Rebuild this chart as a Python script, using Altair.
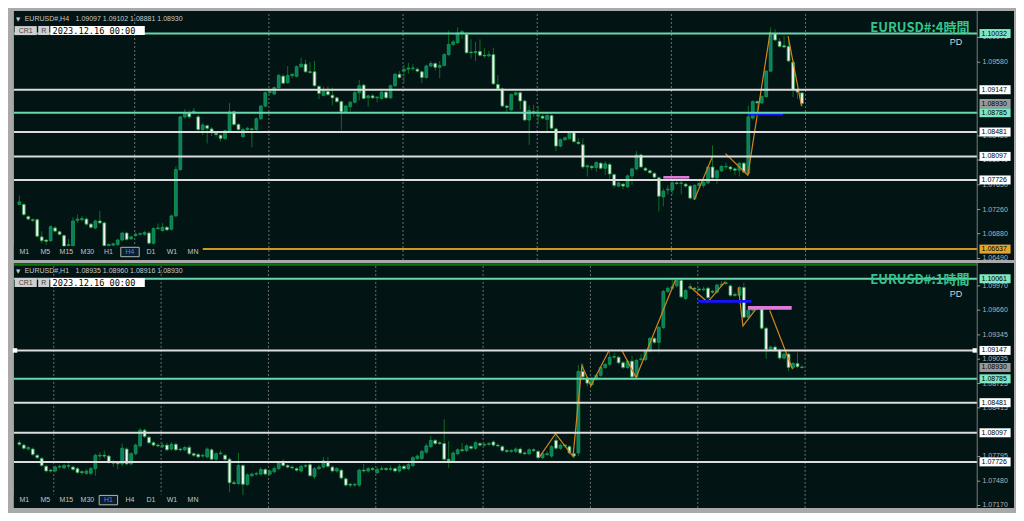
import altair as alt
import pandas as pd

# ---------------- data ----------------
# H4 panel candles (176)
top_open = [1.0734,1.0734,1.0715,1.0710,1.0710,1.0683,1.0678,1.0677,1.0697,1.0691,
1.0685,1.0669,1.0669,1.0709,1.0710,1.0711,1.0703,1.0697,1.0708,1.0705,
1.0669,1.0670,1.0671,1.0678,1.0689,1.0680,1.0685,1.0687,1.0687,1.0689,
1.0673,1.0696,1.0693,1.0698,1.0695,1.0716,1.0789,1.0872,1.0878,1.0879,
1.0872,1.0852,1.0858,1.0853,1.0846,1.0843,1.0838,1.0850,1.0880,1.0860,
1.0841,1.0852,1.0853,1.0852,1.0869,1.0889,1.0910,1.0908,1.0918,1.0936,
1.0926,1.0937,1.0936,1.0951,1.0955,1.0943,1.0943,1.0920,1.0906,1.0912,
1.0906,1.0902,1.0896,1.0880,1.0888,1.0895,1.0910,1.0922,1.0902,1.0905,
1.0902,1.0901,1.0911,1.0902,1.0921,1.0939,1.0944,1.0947,1.0948,1.0947,
1.0943,1.0934,1.0952,1.0956,1.0950,1.0953,1.0970,1.0986,1.0989,1.1004,
1.1002,1.0974,1.0973,1.0975,1.0969,1.0968,1.0970,1.0923,1.0916,1.0889,
1.0883,1.0907,1.0910,1.0897,1.0867,1.0880,1.0873,1.0873,1.0868,1.0874,
1.0853,1.0826,1.0836,1.0838,1.0847,1.0832,1.0828,1.0793,1.0794,1.0792,
1.0799,1.0791,1.0797,1.0781,1.0763,1.0766,1.0762,1.0779,1.0790,1.0812,
1.0791,1.0787,1.0783,1.0776,1.0746,1.0757,1.0757,1.0768,1.0767,1.0766,
1.0763,1.0743,1.0764,1.0764,1.0768,1.0793,1.0776,1.0787,1.0793,1.0793,
1.0790,1.0788,1.0799,1.0783,1.0870,1.0896,1.0894,1.0904,1.0944,1.1003,
1.0991,1.0984,1.0983,1.0958,1.0915,1.09097]
top_high = [1.0748,1.0736,1.0717,1.0712,1.0712,1.0692,1.0680,1.0701,1.0700,1.0693,
1.0687,1.0680,1.0714,1.0718,1.0716,1.0714,1.0705,1.0710,1.0724,1.0707,
1.0673,1.0674,1.0680,1.0691,1.0691,1.0685,1.0690,1.0690,1.0692,1.0692,
1.0698,1.0704,1.0705,1.0700,1.0718,1.0794,1.0874,1.0884,1.0882,1.0886,
1.0875,1.0862,1.0860,1.0856,1.0848,1.0845,1.0852,1.0894,1.0882,1.0862,
1.0855,1.0856,1.0855,1.0871,1.0891,1.0912,1.0916,1.0920,1.0940,1.0939,
1.0952,1.0941,1.0953,1.0965,1.0962,1.0958,1.0960,1.0922,1.0920,1.0920,
1.0918,1.0904,1.0898,1.0891,1.0897,1.0913,1.0930,1.0924,1.0907,1.0908,
1.0905,1.0913,1.0913,1.0923,1.0941,1.0944,1.0954,1.0957,1.0955,1.0950,
1.0945,1.0954,1.0960,1.0958,1.0960,1.0972,1.1008,1.0993,1.1013,1.1009,
1.1005,1.0994,1.0990,1.0994,1.0980,1.0976,1.0981,1.0938,1.0918,1.0891,
1.0909,1.0912,1.0912,1.0899,1.0890,1.0891,1.0889,1.0876,1.0878,1.0876,
1.0855,1.0838,1.0841,1.0849,1.0849,1.0838,1.0838,1.0797,1.0796,1.0802,
1.0801,1.0802,1.0800,1.0783,1.0770,1.0768,1.0781,1.0792,1.0818,1.0814,
1.0793,1.0789,1.0785,1.0778,1.0759,1.0764,1.0772,1.0770,1.0773,1.0768,
1.0765,1.0766,1.0772,1.0771,1.0795,1.0827,1.0789,1.0796,1.0800,1.0795,
1.0792,1.0801,1.0801,1.0890,1.0898,1.0898,1.0906,1.0946,1.1013,1.1010,
1.0996,1.1000,1.0998,1.0960,1.0917,1.09102]
top_low = [1.0733,1.0716,1.0709,1.0706,1.0682,1.0673,1.0670,1.0675,1.0690,1.0685,
1.0665,1.0665,1.0667,1.0705,1.0707,1.0701,1.0696,1.0695,1.0703,1.0667,
1.0667,1.0668,1.0669,1.0676,1.0677,1.0678,1.0683,1.0685,1.0685,1.0671,
1.0671,1.0694,1.0691,1.0692,1.0693,1.0714,1.0787,1.0869,1.0869,1.0876,
1.0850,1.0843,1.0830,1.0842,1.0840,1.0833,1.0836,1.0848,1.0858,1.0850,
1.0839,1.0850,1.0824,1.0850,1.0867,1.0887,1.0907,1.0906,1.0916,1.0923,
1.0924,1.0933,1.0934,1.0949,1.0941,1.0940,1.0919,1.0900,1.0904,1.0905,
1.0890,1.0894,1.0851,1.0878,1.0880,1.0893,1.0898,1.0899,1.0888,1.0900,
1.0895,1.0899,1.0900,1.0900,1.0919,1.0932,1.0925,1.0940,1.0944,1.0942,
1.0925,1.0932,1.0950,1.0945,1.0933,1.0951,1.0968,1.0984,1.0987,1.0995,
1.0971,1.0964,1.0960,1.0967,1.0965,1.0966,1.0922,1.0914,1.0887,1.0880,
1.0881,1.0905,1.0883,1.0865,1.0828,1.0872,1.0860,1.0868,1.0849,1.0852,
1.0818,1.0824,1.0834,1.0836,1.0831,1.0828,1.0790,1.0778,1.0788,1.0785,
1.0789,1.0780,1.0775,1.0760,1.0761,1.0758,1.0760,1.0765,1.0788,1.0791,
1.0786,1.0782,1.0775,1.0723,1.0731,1.0750,1.0750,1.0765,1.0750,1.0760,
1.0742,1.0741,1.0760,1.0760,1.0766,1.0774,1.0766,1.0785,1.0788,1.0786,
1.0780,1.0778,1.0783,1.0781,1.0868,1.0880,1.0892,1.0902,1.0942,1.0991,
1.0981,1.0980,1.0958,1.0903,1.0900,1.08881]
top_close = [1.0738,1.0718,1.0711,1.0709,1.0684,1.0677,1.0676,1.0699,1.0692,1.0687,
1.0668,1.0671,1.0708,1.0711,1.0712,1.0703,1.0698,1.0708,1.0705,1.0669,
1.0671,1.0672,1.0678,1.0689,1.0679,1.0683,1.0687,1.0688,1.0690,1.0673,
1.0696,1.0697,1.0698,1.0694,1.0716,1.0789,1.0872,1.0879,1.0872,1.0881,
1.0852,1.0859,1.0854,1.0847,1.0844,1.0838,1.0850,1.0880,1.0860,1.0852,
1.0852,1.0854,1.0852,1.0869,1.0889,1.0910,1.0913,1.0918,1.0937,1.0925,
1.0937,1.0939,1.0951,1.0955,1.0943,1.0942,1.0921,1.0909,1.0913,1.0907,
1.0902,1.0896,1.0880,1.0889,1.0895,1.0910,1.0921,1.0901,1.0905,1.0902,
1.0903,1.0911,1.0902,1.0921,1.0939,1.0934,1.0947,1.0949,1.0949,1.0944,
1.0934,1.0952,1.0956,1.0950,1.0953,1.0970,1.0986,1.0990,1.1004,1.1006,
1.0973,1.0973,1.0975,1.0969,1.0968,1.0970,1.0924,1.0916,1.0889,1.0887,
1.0907,1.0910,1.0897,1.0867,1.0882,1.0878,1.0875,1.0870,1.0874,1.0854,
1.0826,1.0836,1.0839,1.0847,1.0833,1.0830,1.0793,1.0795,1.0792,1.0800,
1.0791,1.0798,1.0782,1.0764,1.0768,1.0763,1.0779,1.0790,1.0812,1.0793,
1.0788,1.0784,1.0777,1.0747,1.0755,1.0758,1.0768,1.0767,1.0768,1.0763,
1.0744,1.0764,1.0767,1.0769,1.0793,1.0776,1.0787,1.0794,1.0794,1.0790,
1.0788,1.0799,1.0785,1.0872,1.0896,1.0894,1.0904,1.0944,1.1003,1.0993,
1.0983,1.0982,1.0960,1.0915,1.0911,1.08930]

# H1 panel candles (176)
bot_open = [1.0797,1.0794,1.0789,1.0789,1.0781,1.0777,1.0767,1.0762,1.0761,1.0766,
1.0765,1.0767,1.0766,1.0764,1.0760,1.0758,1.0758,1.0764,1.0780,1.0781,
1.0780,1.0772,1.0771,1.0770,1.0789,1.0770,1.0783,1.0793,1.0813,1.0804,
1.0797,1.0794,1.0792,1.0794,1.0789,1.0795,1.0789,1.0788,1.0791,1.0783,
1.0782,1.0780,1.0779,1.0788,1.0776,1.0783,1.0781,1.0776,1.0746,1.0745,
1.0768,1.0744,1.0755,1.0757,1.0757,1.0763,1.0757,1.0760,1.0764,1.0772,
1.0768,1.0766,1.0764,1.0761,1.0767,1.0769,1.0754,1.0764,1.0766,1.0773,
1.0766,1.0761,1.0762,1.0751,1.0744,1.0743,1.0743,1.0762,1.0761,1.0764,
1.0759,1.0763,1.0764,1.0763,1.0764,1.0761,1.0767,1.0764,1.0768,1.0777,
1.0777,1.0785,1.0792,1.0800,1.0797,1.0796,1.0776,1.0774,1.0783,1.0788,
1.0787,1.0792,1.0790,1.0796,1.0794,1.0795,1.0798,1.0794,1.0792,1.0787,
1.0786,1.0786,1.0789,1.0784,1.0783,1.0788,1.0786,1.0778,1.0782,1.0780,
1.0800,1.0790,1.0794,1.0792,1.0783,1.0784,1.0888,1.0879,1.0871,1.0879,
1.0883,1.0893,1.0897,1.0906,1.0906,1.0899,1.0893,1.0901,1.0881,1.0903,
1.0903,1.0914,1.0930,1.0925,1.0944,1.0990,1.0994,1.0997,1.1004,1.0981,
1.0994,1.0994,1.0993,1.0992,1.0994,1.0990,1.0989,1.0998,1.1000,1.0997,
1.0986,1.0985,1.0995,1.0957,1.0966,1.0968,1.0969,1.0943,1.0916,1.0919,
1.0915,1.0905,1.0910,1.0893,1.0898,1.08935]
bot_high = [1.0800,1.0796,1.0793,1.0791,1.0783,1.0779,1.0769,1.0764,1.0768,1.0769,
1.0770,1.0772,1.0768,1.0766,1.0762,1.0763,1.0766,1.0783,1.0785,1.0787,
1.0782,1.0775,1.0773,1.0796,1.0791,1.0785,1.0796,1.0816,1.0815,1.0806,
1.0799,1.0796,1.0797,1.0797,1.0798,1.0797,1.0791,1.0793,1.0794,1.0785,
1.0784,1.0783,1.0791,1.0790,1.0785,1.0787,1.0783,1.0778,1.0749,1.0784,
1.0770,1.0758,1.0759,1.0760,1.0766,1.0765,1.0763,1.0767,1.0773,1.0776,
1.0770,1.0768,1.0766,1.0769,1.0770,1.0771,1.0766,1.0769,1.0779,1.0779,
1.0768,1.0766,1.0764,1.0753,1.0746,1.0746,1.0764,1.0770,1.0766,1.0766,
1.0766,1.0767,1.0766,1.0768,1.0766,1.0770,1.0769,1.0771,1.0780,1.0782,
1.0788,1.0796,1.0806,1.0802,1.0799,1.0827,1.0799,1.0786,1.0790,1.0797,
1.0795,1.0794,1.0799,1.0798,1.0797,1.0798,1.0800,1.0796,1.0794,1.0789,
1.0789,1.0791,1.0791,1.0786,1.0790,1.0790,1.0788,1.0785,1.0786,1.0794,
1.0806,1.0796,1.0795,1.0794,1.0785,1.0896,1.0898,1.0881,1.0881,1.0885,
1.0895,1.0899,1.0913,1.0912,1.0908,1.0901,1.0903,1.0908,1.0904,1.0910,
1.0916,1.0932,1.0932,1.0946,1.0992,1.0996,1.1005,1.1006,1.1006,1.0993,
1.1000,1.0996,1.0995,1.0996,1.0996,1.0992,1.1000,1.1003,1.1004,1.0999,
1.0989,1.0997,1.1001,1.0968,1.0970,1.0971,1.0971,1.0945,1.0921,1.0921,
1.0917,1.0912,1.0912,1.0900,1.0912,1.08960]
bot_low = [1.0793,1.0788,1.0787,1.0780,1.0776,1.0766,1.0759,1.0759,1.0759,1.0764,
1.0763,1.0764,1.0761,1.0757,1.0756,1.0756,1.0756,1.0755,1.0775,1.0777,
1.0770,1.0766,1.0763,1.0767,1.0768,1.0768,1.0781,1.0791,1.0803,1.0795,
1.0792,1.0791,1.0790,1.0786,1.0787,1.0786,1.0786,1.0786,1.0781,1.0779,
1.0777,1.0778,1.0777,1.0774,1.0774,1.0781,1.0774,1.0734,1.0743,1.0743,
1.0730,1.0742,1.0753,1.0755,1.0755,1.0755,1.0755,1.0758,1.0762,1.0766,
1.0764,1.0763,1.0760,1.0759,1.0765,1.0753,1.0751,1.0762,1.0764,1.0765,
1.0759,1.0759,1.0750,1.0741,1.0740,1.0741,1.0741,1.0759,1.0759,1.0761,
1.0757,1.0762,1.0761,1.0761,1.0759,1.0759,1.0762,1.0762,1.0766,1.0775,
1.0775,1.0783,1.0790,1.0794,1.0794,1.0774,1.0765,1.0772,1.0781,1.0785,
1.0785,1.0788,1.0788,1.0792,1.0792,1.0793,1.0792,1.0791,1.0785,1.0784,
1.0784,1.0784,1.0782,1.0781,1.0781,1.0785,1.0776,1.0776,1.0780,1.0778,
1.0788,1.0788,1.0791,1.0782,1.0777,1.0780,1.0879,1.0869,1.0869,1.0876,
1.0881,1.0891,1.0895,1.0903,1.0897,1.0891,1.0891,1.0879,1.0879,1.0901,
1.0901,1.0912,1.0923,1.0912,1.0942,1.0988,1.0992,1.0995,1.0981,1.0979,
1.0992,1.0991,1.0990,1.0990,1.0980,1.0987,1.0987,1.0996,1.0998,1.0983,
1.0983,1.0983,1.0955,1.0955,1.0964,1.0966,1.0941,1.0904,1.0914,1.0913,
1.0903,1.0903,1.0888,1.0891,1.0892,1.08916]
bot_close = [1.0795,1.0790,1.0791,1.0782,1.0778,1.0768,1.0761,1.0761,1.0766,1.0767,
1.0768,1.0768,1.0763,1.0759,1.0759,1.0761,1.0764,1.0781,1.0781,1.0780,
1.0772,1.0771,1.0770,1.0790,1.0770,1.0783,1.0794,1.0813,1.0805,1.0797,
1.0794,1.0793,1.0794,1.0788,1.0795,1.0788,1.0788,1.0791,1.0783,1.0781,
1.0779,1.0781,1.0789,1.0776,1.0783,1.0784,1.0776,1.0746,1.0745,1.0768,
1.0744,1.0756,1.0757,1.0758,1.0763,1.0757,1.0761,1.0764,1.0771,1.0768,
1.0766,1.0765,1.0762,1.0767,1.0768,1.0755,1.0764,1.0766,1.0774,1.0767,
1.0761,1.0764,1.0752,1.0743,1.0743,1.0744,1.0762,1.0761,1.0764,1.0763,
1.0763,1.0764,1.0763,1.0764,1.0761,1.0767,1.0764,1.0769,1.0778,1.0780,
1.0786,1.0793,1.0800,1.0796,1.0796,1.0776,1.0774,1.0784,1.0788,1.0787,
1.0793,1.0790,1.0797,1.0794,1.0795,1.0796,1.0794,1.0793,1.0787,1.0786,
1.0787,1.0789,1.0784,1.0783,1.0788,1.0787,1.0778,1.0783,1.0783,1.0792,
1.0790,1.0794,1.0793,1.0784,1.0780,1.0888,1.0881,1.0873,1.0879,1.0883,
1.0893,1.0897,1.0906,1.0907,1.0899,1.0893,1.0901,1.0881,1.0902,1.0904,
1.0914,1.0930,1.0925,1.0944,1.0990,1.0994,1.0996,1.1004,1.0983,1.0991,
1.0996,1.0993,1.0992,1.0993,1.0982,1.0989,1.0998,1.0999,1.1001,1.0985,
1.0985,1.0995,1.0957,1.0966,1.0968,1.0969,1.0943,1.0916,1.0919,1.0915,
1.0905,1.0910,1.0893,1.0898,1.0894,1.08930]

# horizontal levels
top_levels = [1.10032, 1.09147, 1.08785, 1.08481, 1.08097, 1.07726]
top_kinds = ["teal", "white", "teal", "white", "white", "white"]
top_gold = [1.06637]
bot_levels = [1.10061, 1.09147, 1.08785, 1.08481, 1.08097, 1.07726]
bot_kinds = ["teal", "white", "teal", "white", "white", "white"]
last_price = [1.08930]

# right-axis tick labels that remain visible around the level boxes
top_ticks = [1.09970, 1.09580, 1.08420, 1.08040, 1.07650, 1.07260, 1.06880, 1.06490]
bot_ticks = [1.09970, 1.09660, 1.09345, 1.09035, 1.08725, 1.08415, 1.07795, 1.07480, 1.07170]

# vertical grid (bar index)
top_grid = [25.8, 55.8, 85.8, 115.8, 145.8, 175.8]
bot_grid = [7.7, 31.7, 55.7, 79.7, 103.7, 127.7, 151.7, 175.7]

# zigzag segments: (segment, bar index, price)
top_zz_seg = [0, 0, 1, 1, 1, 2, 2]
top_zz_x = [150.9, 154.9, 157.9, 162.9, 167.9, 171.9, 174.9]
top_zz_p = [1.0741, 1.0808, 1.0814, 1.0780, 1.1006, 1.0999, 1.0889]
bot_zz_seg = [0, 0, 0, 0, 0, 0, 1, 1, 1, 2, 2, 2, 3, 3, 3, 4, 4]
bot_zz_x = [116.2, 119.9, 123.8, 125.8, 127.8, 131.8, 134.8, 137.9, 146.7,
            149.9, 153.9, 157.8, 160.8, 161.8, 164.7, 167.8, 172.9]
bot_zz_p = [1.0778, 1.08085, 1.07797, 1.08958, 1.08694, 1.09139, 1.09139, 1.08801, 1.10044,
            1.09962, 1.09764, 1.10020, 1.09946, 1.09460, 1.09674, 1.09657, 1.08908]

# zone rectangles (pink) and blue line: [x0, x1, p0, p1]
top_pink = [144.0, 149.8, 1.07747, 1.07788]
bot_pink = [162.9, 172.7, 1.09666, 1.09715]
top_blue = [163.0, 170.8, 1.08760]
bot_blue = [151.8, 163.7, 1.09773]

timeframes = ["M1", "M5", "M15", "M30", "H1", "H4", "D1", "W1", "MN"]

# ---------------- styling / layout ----------------
W, H = 1008, 505
X_DOMAIN = [-1.417, 221.74]
TOP_DOM, TOP_RNG = [1.06467, 1.10387], [251.9, 3.0]
BOT_DOM, BOT_RNG = [1.07138, 1.10263], [500.0, 254.9]
PX0, PX1 = 5.9, 969.2          # plot area x extent
AX1 = 1006.0                   # end of price-axis strip

FRAME = "#a9a9a9"
BG = "#031414"
TEAL = "#67d8ae"
WHITE = "#dcdcdc"
GOLD = "#cf971d"
WICK = "#0b6e25"
BULL_F, BULL_S = "#0a7c68", "#13a04e"
BEAR_F, BEAR_S = "#f4f4f4", "#2c9a4c"
ZZ = "#d4851e"
PINK = "#e07ad8"
BLUE = "#1414ff"
FONT = "Liberation Sans"

one = pd.DataFrame({"z": [0]})


def xq(f):
    return alt.X(f, type="quantitative",
                 scale=alt.Scale(domain=X_DOMAIN, nice=False, zero=False), axis=None)


def yq(f, dom, rng):
    return alt.Y(f, type="quantitative",
                 scale=alt.Scale(domain=dom, range=rng, nice=False, zero=False), axis=None)


def rect(x0, x1, y0, y1, fill, stroke=None, sw=0.0):
    kw = dict(fill=fill)
    if stroke:
        kw.update(stroke=stroke, strokeWidth=sw)
    return alt.Chart(one).mark_rect(**kw).encode(
        x=alt.value(x0), x2=alt.value(x1), y=alt.value(y0), y2=alt.value(y1))


def txt(s, x, y, size=7, color="#c8c8c8", align="left", font=FONT, weight="normal"):
    return alt.Chart(one).mark_text(
        text=s, align=align, baseline="middle", fontSize=size, color=color,
        font=font, fontWeight=weight).encode(x=alt.value(x), y=alt.value(y))


line_scale = alt.Scale(domain=["teal", "white", "gold"], range=[TEAL, WHITE, GOLD])
box_scale = alt.Scale(domain=["teal", "white", "gold", "cur"],
                      range=["#7fe6c0", "#ffffff", "#e3a52a", "#9a9a9a"])
tf_x = [16.4, 37.4, 58.4, 79.4, 100.4, 122.0, 143.0, 164.0, 185.0]


def panel(o, h, l, c, dom, rng, y0, y1, levels, kinds, gold, ticks, grid,
          zz_seg, zz_x, zz_p, pink, blue, hdr_name, hdr_vals, title, tf_sel,
          green_bar, square_marker):
    Y = lambda f: yq(f, dom, rng)
    df = pd.DataFrame({"i": list(range(len(o))), "o": o, "h": h, "l": l, "c": c})
    df["up"] = df["c"] >= df["o"]
    layers = []
    # background of plot and axis strip
    layers.append(rect(PX0, AX1, y0, y1, BG))
    if green_bar:
        layers.append(rect(PX0, PX1, y0 + 0.4, y0 + 2.9, "#0c7412"))
    # dotted vertical grid
    layers.append(alt.Chart(pd.DataFrame({"g": grid})).mark_rule(
        color="#6e6e6e", strokeDash=[2, 2], strokeWidth=1).encode(
        x=xq("g"), y=alt.value(y0 + 3), y2=alt.value(y1)))
    # candles
    layers.append(alt.Chart(df).mark_rule(color=WICK, strokeWidth=1).encode(
        x=xq("i"), y=Y("l"), y2="h"))
    layers.append(alt.Chart(df[df["up"]]).mark_bar(
        size=2.8, fill=BULL_F, stroke=BULL_S, strokeWidth=0.8).encode(
        x=xq("i"), y=Y("o"), y2="c"))
    layers.append(alt.Chart(df[~df["up"]]).mark_bar(
        size=2.8, fill=BEAR_F, stroke=BEAR_S, strokeWidth=0.8).encode(
        x=xq("i"), y=Y("o"), y2="c"))
    # zigzag
    zdf = pd.DataFrame({"seg": zz_seg, "x": zz_x, "p": zz_p})
    zdf["k"] = range(len(zdf))
    layers.append(alt.Chart(zdf).mark_line(color=ZZ, strokeWidth=1.2).encode(
        x=xq("x"), y=Y("p"), detail="seg:N", order="k:Q"))
    # zone / trend objects
    layers.append(alt.Chart(pd.DataFrame({"x0": [pink[0]], "x1": [pink[1]],
                                          "p0": [pink[2]], "p1": [pink[3]]}))
                  .mark_rect(color=PINK).encode(x=xq("x0"), x2="x1", y=Y("p0"), y2="p1"))
    layers.append(alt.Chart(pd.DataFrame({"x0": [blue[0]], "x1": [blue[1]], "p": [blue[2]]}))
                  .mark_rule(color=BLUE, strokeWidth=2.6).encode(x=xq("x0"), x2="x1", y=Y("p")))
    # horizontal levels
    ldf = pd.DataFrame({"p": levels, "kind": kinds})
    layers.append(alt.Chart(ldf).mark_rule(strokeWidth=2).encode(
        x=alt.value(PX0), x2=alt.value(PX1), y=Y("p"),
        color=alt.Color("kind:N", scale=line_scale, legend=None)))
    if gold:
        layers.append(alt.Chart(pd.DataFrame({"p": gold})).mark_rule(
            strokeWidth=2, color=GOLD).encode(x=alt.value(194.8), x2=alt.value(PX1), y=Y("p")))
    if square_marker is not None:
        sq = pd.DataFrame({"p": [square_marker]})
        for xv in (7.0, 966.8):
            layers.append(alt.Chart(sq).mark_square(size=20, color="#ffffff", opacity=1).encode(
                x=alt.value(xv), y=Y("p")))
    # header & buttons
    hy = y0 + 7.7
    by0, by1 = y0 + 15.1, y0 + 24.1
    layers.append(txt("\u25bc", 8.0, hy, size=5.5, color="#c8c8c8", font="DejaVu Sans"))
    layers.append(txt(hdr_name, 16.7, hy))
    layers.append(txt(hdr_vals, 67.6, hy))
    layers.append(rect(6.6, 28.8, by0, by1, "#cfcfcf"))
    layers.append(txt("CR1", 17.7, (by0 + by1) / 2, color="#444444", align="center"))
    layers.append(rect(30.2, 41.3, by0, by1, "#cfcfcf"))
    layers.append(txt("R", 35.7, (by0 + by1) / 2, color="#444444", align="center"))
    layers.append(rect(42.3, 136.8, by0, by1, "#ffffff"))
    layers.append(txt("2023.12.16 00:00", 44.6, (by0 + by1) / 2 + 0.3, size=8.6,
                      color="#000000", font="DejaVu Sans Mono"))
    # title + PD
    layers.append(txt(title, 961.4, y0 + 17.3, size=13, color="#34c48c", align="right",
                      font="Noto Sans CJK JP", weight="bold"))
    layers.append(txt("PD", 948.0, y0 + 30.6, size=9, color="#d6d6d6", align="center"))
    # timeframe bar
    ty = y1 - 8.0
    layers.append(rect(PX0, 194.0, y1 - 13.6, y1, BG))
    for name, xv in zip(timeframes, tf_x):
        if name == tf_sel:
            layers.append(rect(xv - 9.2, xv + 9.2, ty - 4.6, ty + 4.8, "#0c1c28", "#b4b4b4", 1))
            layers.append(txt(name, xv, ty, color="#3a8cff", align="center"))
        else:
            layers.append(txt(name, xv, ty, color="#c4c4c4", align="center"))
    # price axis strip
    layers.append(rect(PX1 - 0.5, PX1 + 0.5, y0, y1, "#7a7a7a"))
    tdf = pd.DataFrame({"p": ticks, "t": [f"{t:.5f}" for t in ticks]})
    layers.append(alt.Chart(tdf).mark_rule(color="#9a9a9a", strokeWidth=1).encode(
        x=alt.value(PX1), x2=alt.value(PX1 + 3), y=Y("p")))
    layers.append(alt.Chart(tdf).mark_text(align="left", baseline="middle", fontSize=7,
                                           color="#b4b4b4", font=FONT).encode(
        x=alt.value(974.5), y=Y("p"), text="t:N"))
    bp = list(levels) + list(gold) + list(last_price)
    bk = list(kinds) + ["gold"] * len(gold) + ["cur"]
    bdf = pd.DataFrame({"p": bp, "kind": bk, "t": [f"{v:.5f}" for v in bp]})
    layers.append(alt.Chart(bdf).mark_rect(yOffset=-4.5, y2Offset=4.5).encode(
        x=alt.value(971.5), x2=alt.value(1002.6), y=Y("p"), y2="p",
        fill=alt.Fill("kind:N", scale=box_scale, legend=None)))
    layers.append(alt.Chart(bdf).mark_text(align="left", baseline="middle", fontSize=7,
                                           color="#000000", font=FONT).encode(
        x=alt.value(973.6), y=Y("p"), text="t:N"))
    return alt.layer(*layers)


top = panel(top_open, top_high, top_low, top_close, TOP_DOM, TOP_RNG, 3.0, 251.9,
            top_levels, top_kinds, top_gold, top_ticks, top_grid,
            top_zz_seg, top_zz_x, top_zz_p, top_pink, top_blue,
            "EURUSD#,H4", "1.09097 1.09102 1.08881 1.08930", "EURUSD#:4時間", "H4",
            False, None)
bot = panel(bot_open, bot_high, bot_low, bot_close, BOT_DOM, BOT_RNG, 254.9, 500.0,
            bot_levels, bot_kinds, [], bot_ticks, bot_grid,
            bot_zz_seg, bot_zz_x, bot_zz_p, bot_pink, bot_blue,
            "EURUSD#,H1", "1.08935 1.08960 1.08916 1.08930", "EURUSD#:1時間", "H1",
            True, 1.09147)

chart = alt.layer(top, bot).resolve_scale(y="independent").properties(
    width=W, height=H, background=FRAME, padding=0,
    autosize=alt.AutoSizeParams(type="none"),
).configure_view(strokeWidth=0)

chart.save("out.html", embed_options={"renderer": "svg", "actions": False})
